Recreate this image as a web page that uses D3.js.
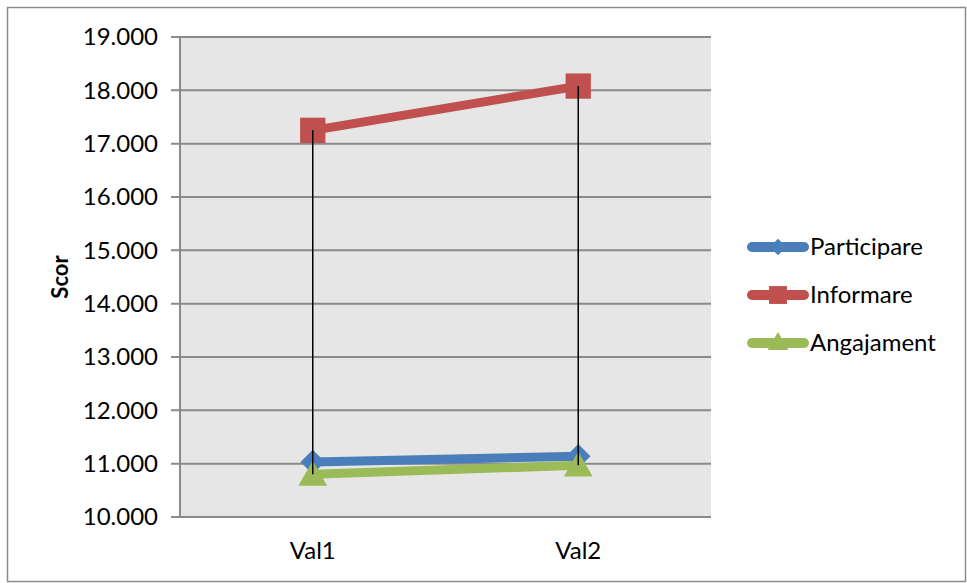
<!DOCTYPE html>
<html>
<head>
<meta charset="utf-8">
<script src="https://cdn.jsdelivr.net/npm/d3@7"></script>
<style>
    body { margin: 0; background: #fff; }
    text { font-family: Lato, "Open Sans", sans-serif; }
</style>
</head>
<body>
<div id="chart"></div>
<script>
// chart values
const categories = ["Val1", "Val2"];
const seriesNames = ["Participare", "Informare", "Angajament"];
const participare = [11.03, 11.14];
const informare = [17.25, 18.08];
const angajament = [10.80, 10.97];
const yTicks = [10, 11, 12, 13, 14, 15, 16, 17, 18, 19];

const colors = ["#4a7ebb", "#c0504d", "#9bbb59"];

// square diamond (excel style), size = area
const excelDiamond = {
    draw: function(context, size) {
        const r = Math.sqrt(size / 2);
        context.moveTo(0, -r);
        context.lineTo(r, 0);
        context.lineTo(0, r);
        context.lineTo(-r, 0);
        context.closePath();
    }
};
const symbols = [excelDiamond, d3.symbolSquare, d3.symbolTriangle];

function init() {
    const w = 967, h = 583;
    const left = 180, right = 711, top = 37, bottom = 517;

    const svg = d3.select("#chart").append("svg")
        .attr("width", w)
        .attr("height", h);

    // outer frame
    svg.append("rect")
        .attr("x", 7.5).attr("y", 7.5)
        .attr("width", 958).attr("height", 574)
        .attr("fill", "white")
        .attr("stroke", "#8c8c8c")
        .attr("stroke-width", 1.5);

    const xScale = d3.scaleBand()
        .domain(categories)
        .range([left, right]);

    const yScale = d3.scaleLinear()
        .domain([10, 19])
        .range([bottom, top]);

    // plot area
    svg.append("rect")
        .attr("x", left).attr("y", top)
        .attr("width", right - left).attr("height", bottom - top)
        .attr("fill", "#e6e6e6");

    // gridlines
    svg.append("g")
        .selectAll("line")
        .data(yTicks)
        .enter()
        .append("line")
        .attr("x1", left - 9)
        .attr("x2", right)
        .attr("y1", d => yScale(d))
        .attr("y2", d => yScale(d))
        .attr("stroke", "#8a8a8a")
        .attr("stroke-width", 2);

    // y axis line
    svg.append("line")
        .attr("x1", left).attr("x2", left)
        .attr("y1", top).attr("y2", bottom)
        .attr("stroke", "#8a8a8a")
        .attr("stroke-width", 2);

    // y axis labels
    const yAxis = svg.append("g")
        .attr("transform", `translate(${left - 9},0)`)
        .call(d3.axisLeft(yScale).tickValues(yTicks).tickFormat(d3.format(".3f")).tickSize(0).tickPadding(13));
    yAxis.select(".domain").remove();
    yAxis.selectAll("text")
        .attr("font-size", "24px")
        .attr("font-family", "Lato, sans-serif")
        .attr("fill", "#000");

    // x axis labels
    const xAxis = svg.append("g")
        .attr("transform", `translate(0,${bottom})`)
        .call(d3.axisBottom(xScale).tickSize(0).tickPadding(25));
    xAxis.select(".domain").remove();
    xAxis.selectAll("text")
        .attr("font-size", "24px")
        .attr("font-family", "Lato, sans-serif")
        .attr("fill", "#000");

    // y title
    svg.append("text")
        .attr("text-anchor", "middle")
        .attr("transform", `translate(68,${(top + bottom) / 2}) rotate(-90)`)
        .style("font-weight", "bold")
        .style("font-size", "22px")
        .text("Scor");

    const seriesData = [participare, informare, angajament];
    const cx = d => xScale(d) + xScale.bandwidth() / 2;

    const line = d3.line()
        .x((d, i) => cx(categories[i]))
        .y(d => yScale(d));

    seriesData.forEach(function(values, k) {
        svg.append("path")
            .datum(values)
            .attr("d", line)
            .attr("fill", "none")
            .attr("stroke", colors[k])
            .attr("stroke-width", 9);

        svg.append("g")
            .selectAll("path")
            .data(values)
            .enter()
            .append("path")
            .attr("transform", (d, i) => `translate(${cx(categories[i])},${yScale(d) + (k == 2 ? 3 : 0)})`)
            .attr("d", d3.symbol().type(symbols[k]).size(k == 1 ? 640 : (k == 0 ? 300 : 360)))
            .attr("fill", colors[k]);
    });

    // high-low lines over markers
    svg.append("g")
        .selectAll("line")
        .data(categories)
        .enter()
        .append("line")
        .attr("x1", d => cx(d))
        .attr("x2", d => cx(d))
        .attr("y1", (d, i) => yScale(d3.max(seriesData, s => s[i])))
        .attr("y2", (d, i) => yScale(d3.min(seriesData, s => s[i])))
        .attr("stroke", "#000")
        .attr("stroke-width", 1.5);

    // legend
    const legend = svg.append("g")
        .selectAll("g")
        .data(seriesNames)
        .enter()
        .append("g")
        .attr("transform", (d, i) => `translate(0,${247 + i * 48})`);

    legend.append("line")
        .attr("x1", 752).attr("x2", 804)
        .attr("y1", 0).attr("y2", 0)
        .attr("stroke", (d, i) => colors[i])
        .attr("stroke-width", 10)
        .attr("stroke-linecap", "round");

    legend.append("path")
        .attr("transform", (d, i) => `translate(778,${i == 2 ? 1 : 0})`)
        .attr("d", (d, i) => d3.symbol().type(symbols[i]).size(i == 1 ? 320 : (i == 0 ? 140 : 190))())
        .attr("fill", (d, i) => colors[i]);

    legend.append("text")
        .attr("x", 810)
        .attr("y", 0)
        .attr("dy", "0.35em")
        .style("font-size", "24px")
        .text(d => d);
}

window.onload = init();
</script>
</body>
</html>
